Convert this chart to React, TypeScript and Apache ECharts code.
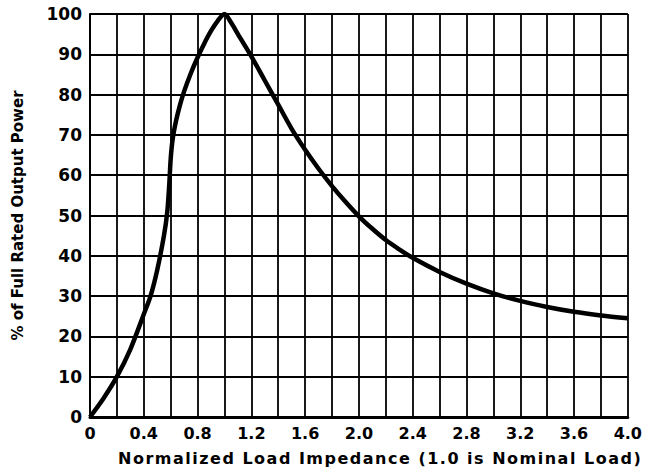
import React, { useEffect, useRef } from "react";
import * as echarts from "echarts";

const impedance = [0, 0.1, 0.2, 0.3, 0.4, 0.45, 0.5, 0.55, 0.575, 0.59, 0.6, 0.615, 0.64, 0.67, 0.7, 0.75, 0.8, 0.85, 0.9, 0.95, 1.0, 1.05, 1.1, 1.2, 1.3, 1.4, 1.5, 1.6, 1.7, 1.8, 1.9, 2.0, 2.1, 2.2, 2.3, 2.4, 2.6, 2.8, 3.0, 3.2, 3.4, 3.6, 3.8, 4.0];
const powerPct = [0, 4.6, 10, 16.8, 25.5, 30, 36.5, 45, 51, 58, 64, 69, 73.5, 77.5, 80.8, 85.3, 89.2, 92.7, 95.8, 98.3, 100, 97.8, 95, 89.5, 83.5, 77.5, 71.5, 66.3, 61.6, 57.3, 53.4, 49.8, 46.7, 43.9, 41.6, 39.5, 36, 33.1, 30.7, 28.8, 27.3, 26.1, 25.2, 24.5];
const xTickLabels = ["0", "0.4", "0.8", "1.2", "1.6", "2.0", "2.4", "2.8", "3.2", "3.6", "4.0"];
const yTickLabels = ["0", "10", "20", "30", "40", "50", "60", "70", "80", "90", "100"];
const xTitle = "Normalized Load Impedance (1.0 is Nominal Load)";
const yTitle = "% of Full Rated Output Power";

const FONT = "'DejaVu Sans', sans-serif";

export default function App() {
  const ref = useRef<HTMLDivElement>(null);
  useEffect(() => {
    if (!ref.current) return;
    const el = ref.current;
    const chart = echarts.init(el, null, { renderer: "svg" });
    const data = impedance.map((x, i) => [x, powerPct[i]]);
    chart.setOption({
      animation: false,
      backgroundColor: "#ffffff",
      grid: { left: 90, top: 14, right: 13, bottom: 57, containLabel: false },
      xAxis: {
        type: "value",
        min: 0,
        max: 4,
        interval: 0.2,
        axisLine: { show: true, lineStyle: { color: "#000", width: 3 } },
        axisTick: { show: false },
        splitLine: { show: true, lineStyle: { color: "#000", width: 1.8 } },
        axisLabel: {
          color: "#000",
          fontFamily: FONT,
          fontWeight: "bold",
          fontSize: 16,
          margin: 8,
          formatter: (v: number) => {
            const idx = Math.round((v / 0.4) * 1000) / 1000;
            if (Math.abs(idx - Math.round(idx)) > 1e-6) return "";
            return xTickLabels[Math.round(idx)] ?? "";
          },
        },
      },
      yAxis: {
        type: "value",
        min: 0,
        max: 100,
        interval: 10,
        name: yTitle,
        nameLocation: "middle",
        nameGap: 65,
        nameTextStyle: { color: "#000", fontFamily: FONT, fontWeight: "bold", fontSize: 15 },
        axisLine: { show: true, lineStyle: { color: "#000", width: 2 } },
        axisTick: { show: false },
        splitLine: { show: true, lineStyle: { color: "#000", width: 1.8 } },
        axisLabel: {
          color: "#000",
          fontFamily: FONT,
          fontWeight: "bold",
          fontSize: 17,
          margin: 8,
          formatter: (v: number) => yTickLabels[Math.round(v / 10)] ?? "",
        },
      },
      graphic: [
        {
          type: "text",
          left: 118,
          top: 450,
          style: { text: xTitle, fill: "#000", font: `bold 16px ${FONT}` },
        },
      ],
      series: [
        {
          type: "line",
          data,
          smooth: 0.3,
          showSymbol: false,
          lineStyle: { color: "#000", width: 4.5 },
        },
      ],
    });
    const spaceTitles = () => {
      el.querySelectorAll("text").forEach((t) => {
        if (t.textContent === xTitle) t.setAttribute("letter-spacing", "1.5");
      });
    };
    spaceTitles();
    chart.on("finished", spaceTitles);
    const timer = setTimeout(spaceTitles, 50);
    return () => {
      clearTimeout(timer);
      chart.dispose();
    };
  }, []);
  return <div ref={ref} style={{ position: "fixed", left: 0, top: 0, width: 645, height: 474 }} />;
}
